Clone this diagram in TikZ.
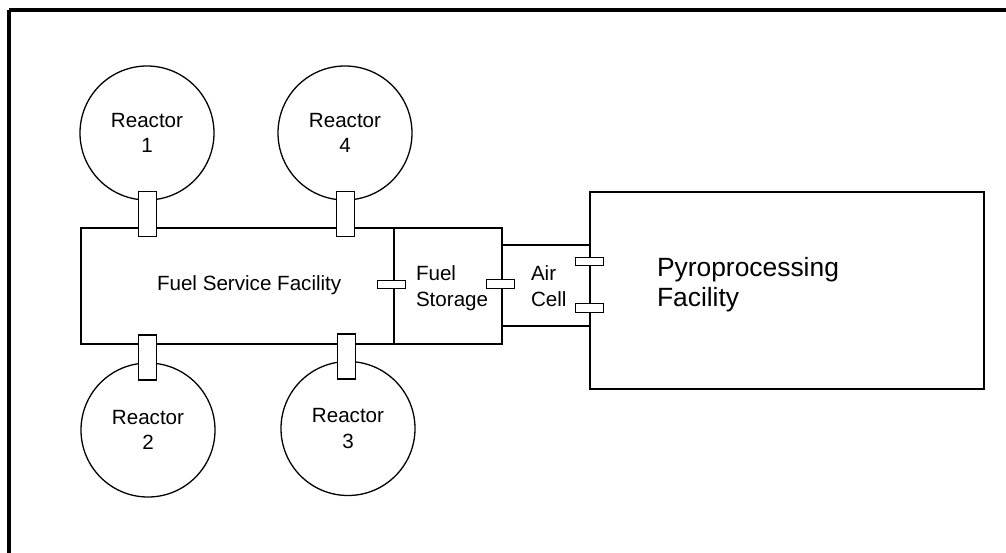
\documentclass[tikz,border=0pt]{standalone}
\usepackage{fontspec}
\setmainfont{Liberation Sans}
\begin{document}
\begin{tikzpicture}[x=1pt,y=-1pt,
  every node/.style={inner sep=0pt, outer sep=0pt},
  thinline/.style={draw=black, line width=1.3pt},
  reactor/.style={thinline, circle, minimum size=134pt, align=center,
    font=\fontsize{20.6}{25.5}\selectfont},
  facility/.style={thinline, rectangle, fill=white},
  vport/.style={thinline, rectangle, fill=white, minimum width=18pt, minimum height=45pt},
  hport/.style={thinline, rectangle, fill=white, minimum width=28pt, minimum height=8.5pt},
  lbl/.style={font=\fontsize{20.6}{25.5}\selectfont, align=left, anchor=north west},
  biglbl/.style={font=\fontsize{26.4}{30}\selectfont, align=left, anchor=north west}
]
\useasboundingbox (0,0) rectangle (1006,552);
\draw[line width=4pt] (9,10) -- (1030,10);
\draw[line width=4pt] (9,10) -- (9,570);
\clip (0,0) rectangle (1006,552);

% facility boxes
\node[facility, minimum width=394pt, minimum height=197pt] (pyro) at (787,290.5) {};
\node[facility, minimum width=88pt, minimum height=81pt] (air) at (546,285.5) {};
\node[facility, minimum width=313pt, minimum height=116pt] (fsf) at (237.5,286) {};
\node[facility, minimum width=108pt, minimum height=116pt] (fst) at (448,286) {};

% reactors
\node[reactor] (r1) at (147,133) {Reactor\\1};
\node[reactor] (r4) at (345,133) {Reactor\\4};
\node[reactor] (r2) at (148,430) {Reactor\\2};
\node[reactor] (r3) at (348,428.5) {Reactor\\3};

% ports
\node[vport] (p1) at (147.5,214) {};
\node[vport] (p4) at (345.5,214) {};
\node[vport] (p2) at (147.5,357.5) {};
\node[vport] (p3) at (346.5,356.5) {};
\node[hport] (h1) at (391.5,284.5) {};
\node[hport] (h2) at (500.5,284) {};
\node[hport] (h3) at (589.5,261.5) {};
\node[hport] (h4) at (589.5,308) {};

% labels
\node[lbl, anchor=base west] (fsflbl) at (157,290) {Fuel Service Facility};
\node[lbl] (fstlbl) at (416,266) {Fuel\\Storage};
\node[lbl] (airlbl) at (531,266) {Air\\Cell};
\node[biglbl] (pyrolbl) at (657,257) {Pyroprocessing\\Facility};
\end{tikzpicture}
\end{document}
